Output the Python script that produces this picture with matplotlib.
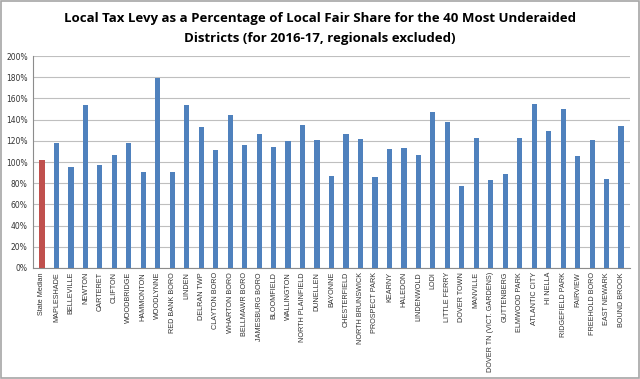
import matplotlib
matplotlib.use("Agg")
import matplotlib.pyplot as plt
from matplotlib.patches import Rectangle

districts = ["State Median", "MAPLESHADE", "BELLEVILLE", "NEWTON", "CARTERET", "CLIFTON",
             "WOODBRIDGE", "HAMMONTON", "WOODLYNNE", "RED BANK BORO", "LINDEN", "DELRAN TWP",
             "CLAYTON BORO", "WHARTON BORO", "BELLMAWR BORO", "JAMESBURG BORO", "BLOOMFIELD",
             "WALLINGTON", "NORTH PLAINFIELD", "DUNELLEN", "BAYONNE", "CHESTERFIELD",
             "NORTH BRUNSWICK", "PROSPECT PARK", "KEARNY", "HALEDON", "LINDENWOLD", "LODI",
             "LITTLE FERRY", "DOVER TOWN", "MANVILLE", "DOVER TN (VICT. GARDENS)", "GUTTENBERG",
             "ELMWOOD PARK", "ATLANTIC CITY", "HI NELLA", "RIDGEFIELD PARK", "FAIRVIEW",
             "FREEHOLD BORO", "EAST NEWARK", "BOUND BROOK"]
levy_pct = [102, 118, 95, 154, 97, 107, 118, 91, 179, 91, 154, 133, 111, 144, 116, 126, 114,
            120, 135, 121, 87, 126, 122, 86, 112, 113, 107, 147, 138, 77, 123, 83, 89, 123,
            155, 129, 150, 106, 121, 84, 134]

colors = ["#C0504D"] + ["#4F81BD"] * (len(districts) - 1)

fig = plt.figure(figsize=(6.4, 3.79), dpi=100)
ax = fig.add_axes([0.052, 0.293, 0.932, 0.559])
x = range(len(districts))
ax.bar(x, levy_pct, width=0.36, color=colors, zorder=3)
ax.set_xlim(-0.6, len(districts) - 0.4)
ax.set_ylim(0, 200)
ax.set_yticks(range(0, 201, 20))
ax.set_yticklabels([f"{v}%" for v in range(0, 201, 20)], fontsize=5.5, color="#333333")
ax.set_xticks(list(x))
ax.set_xticklabels(districts, rotation=90, fontsize=5.2, color="#333333",
                   family="Liberation Sans")
ax.tick_params(axis="x", length=0, pad=3)
ax.tick_params(axis="y", length=0, pad=4)
ax.grid(axis="y", color="#BFBFBF", lw=0.8, zorder=0)
for s in ["top", "right"]:
    ax.spines[s].set_visible(False)
ax.spines["left"].set_color("#8C8C8C")
ax.spines["bottom"].set_color("#8C8C8C")

fig.text(0.5, 0.952, "Local Tax Levy as a Percentage of Local Fair Share for the 40 Most Underaided",
         ha="center", va="center", fontsize=9.5, fontweight="bold", family="Open Sans")
fig.text(0.5, 0.898, "Districts (for 2016-17, regionals excluded)",
         ha="center", va="center", fontsize=9.5, fontweight="bold", family="Open Sans")

fig.patches.append(Rectangle((0.002, 0.003), 0.996, 0.994, transform=fig.transFigure,
                             fill=False, ec="#A6A6A6", lw=1.2))
fig.savefig("out.png", dpi=100)
